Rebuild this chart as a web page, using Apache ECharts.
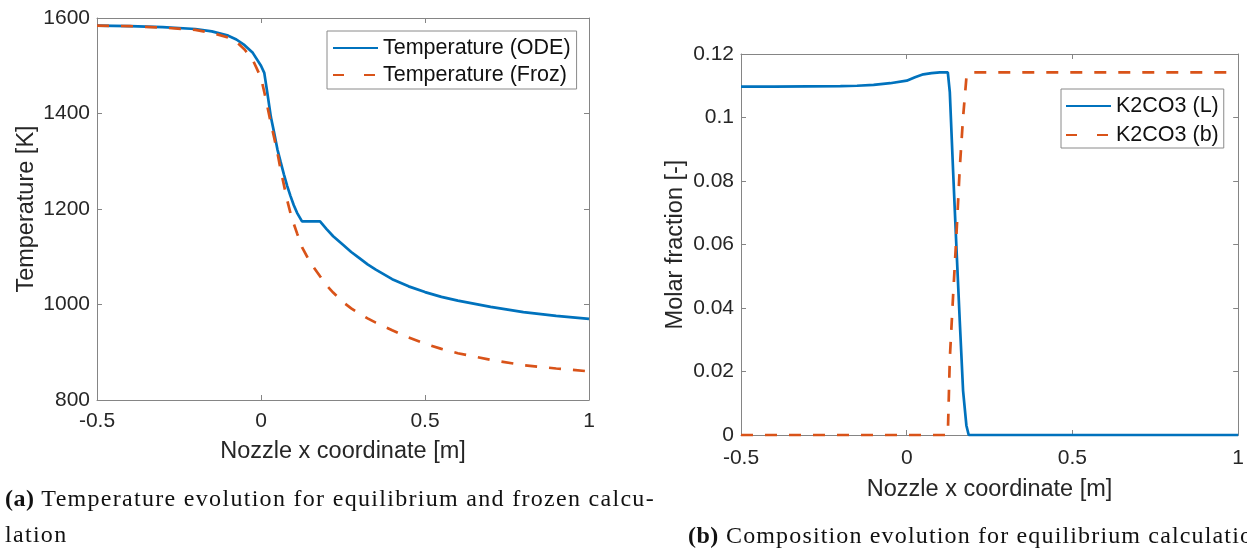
<!DOCTYPE html>
<html>
<head>
<meta charset="utf-8">
<script src="https://cdn.jsdelivr.net/npm/echarts@6/dist/echarts.min.js"></script>
<style>
  html, body { margin: 0; padding: 0; width: 1247px; height: 548px; overflow: hidden; background: #fff; }
  #chart { position: absolute; left: 0; top: 0; width: 1247px; height: 548px; }
  .cap { position: absolute; font-family: "Liberation Serif", "DejaVu Serif", serif; font-size: 24px;
         line-height: 36.7px; letter-spacing: 1.3px; color: #111; white-space: nowrap; }
  .cap b { letter-spacing: 0.5px; }
</style>
</head>
<body>
<div id="chart"></div>
<div class="cap" style="left:5px; top:479.5px;"><b>(a)</b> Temperature evolution for equilibrium and frozen calcu-<br>lation</div>
<div class="cap" style="left:688px; top:516.5px; letter-spacing:1.15px;"><b>(b)</b> Composition evolution for equilibrium calculation</div>
<script>
// ---- Left chart data: temperature along the nozzle ----
const xTemp = [-0.5, -0.4, -0.3, -0.2, -0.15, -0.1, -0.075, -0.05, -0.025, 0,
  0.01, 0.02, 0.03, 0.04, 0.05, 0.06, 0.07, 0.08, 0.09, 0.1,
  0.11, 0.125, 0.15, 0.18, 0.2, 0.22, 0.25, 0.275, 0.3, 0.325,
  0.35, 0.4, 0.45, 0.5, 0.55, 0.6, 0.7, 0.8, 0.9, 1.0];
const tempODE = [1584, 1583, 1581, 1577, 1572, 1563, 1555, 1543, 1527, 1500,
  1485, 1440, 1393, 1360, 1325, 1298, 1272, 1248, 1227, 1208,
  1192, 1174, 1174, 1174, 1158, 1143, 1125, 1110, 1097, 1084,
  1073, 1053, 1038, 1026, 1016, 1008, 995, 984, 976, 970];
const tempFroz = [1584, 1583, 1580, 1575, 1569, 1559, 1550, 1534, 1512, 1475,
  1445, 1413, 1380, 1350, 1318, 1282, 1250, 1218, 1191, 1169,
  1149, 1120, 1088, 1059, 1040, 1025, 1005, 992, 981, 971,
  962, 946, 931, 918, 907, 898, 884, 873, 866, 860];

// ---- Right chart data: K2CO3 molar fraction ----
const xComp = [-0.5, -0.4, -0.3, -0.2, -0.15, -0.1, -0.05, 0, 0.025, 0.05,
  0.075, 0.1, 0.124, 0.13, 0.14, 0.15, 0.16, 0.17, 0.18, 0.187,
  0.2, 0.5, 1.0];
const k2co3L = [0.1097, 0.1097, 0.1098, 0.1099, 0.1100, 0.1103, 0.1108, 0.1116, 0.1127, 0.1136,
  0.1140, 0.1142, 0.1142, 0.108, 0.083, 0.059, 0.036, 0.014, 0.003, 0,
  0, 0, 0];
const k2co3b = [0, 0, 0, 0, 0, 0, 0, 0, 0, 0,
  0, 0, 0, 0.024, 0.044, 0.063, 0.084, 0.100, 0.1125, 0.1142,
  0.1142, 0.1142, 0.1142];

// ---- Axis ticks ----
const xTicks = [-0.5, 0, 0.5, 1];
const tempTicks = [800, 1000, 1200, 1400, 1600];
const compTicks = [0, 0.02, 0.04, 0.06, 0.08, 0.1, 0.12];

const seriesNames = ['Temperature (ODE)', 'Temperature (Froz)', 'K2CO3 (L)', 'K2CO3 (b)'];
const xName = 'Nozzle x coordinate [m]';
const yNames = ['Temperature [K]', 'Molar fraction [-]'];

const BLUE = '#0072BD', RED = '#D95319';
const AXIS = '#858585', TXT = '#262626';
const FONT = '"Liberation Sans", Arial, Helvetica, sans-serif';

function pairs(xs, ys) { return xs.map((x, i) => [x, ys[i]]); }

function xAx(grid, pos, ticks, gap, margin) {
  const step = ticks[1] - ticks[0];
  return {
    type: 'value', gridIndex: grid, position: pos,
    min: ticks[0], max: ticks[ticks.length - 1], interval: step,
    name: pos === 'bottom' ? xName : '', nameLocation: 'middle', nameGap: gap,
    nameTextStyle: { fontFamily: FONT, fontSize: 23.5, color: TXT },
    axisLine: { show: true, onZero: false, lineStyle: { color: AXIS, width: 1 } },
    axisTick: { show: true, inside: true, length: 5, lineStyle: { color: AXIS, width: 1 } },
    axisLabel: { show: pos === 'bottom', margin: margin, fontFamily: FONT, fontSize: 21, color: TXT },
    splitLine: { show: false }
  };
}
function yAx(grid, pos, ticks, name, gap) {
  const step = +(ticks[1] - ticks[0]).toFixed(6);
  return {
    type: 'value', gridIndex: grid, position: pos,
    min: ticks[0], max: ticks[ticks.length - 1], interval: step,
    name: pos === 'left' ? name : '', nameLocation: 'middle', nameGap: gap, nameRotate: 90,
    nameTextStyle: { fontFamily: FONT, fontSize: 23.5, color: TXT },
    axisLine: { show: true, onZero: false, lineStyle: { color: AXIS, width: 1 } },
    axisTick: { show: true, inside: true, length: 5, lineStyle: { color: AXIS, width: 1 } },
    axisLabel: { show: pos === 'left', margin: 7, fontFamily: FONT, fontSize: 21, color: TXT,
      formatter: v => String(+v.toFixed(4)) },
    splitLine: { show: false }
  };
}

function legendBox(names, left, top, gap, pad) {
  return {
    orient: 'vertical', left: left, top: top, padding: pad, itemGap: gap,
    itemWidth: 45, itemHeight: 14,
    backgroundColor: '#fff', borderColor: '#8a8a8a', borderWidth: 1, borderRadius: 0,
    selectedMode: false,
    itemStyle: { opacity: 0 },
    textStyle: { fontFamily: FONT, fontSize: 21.5, color: '#111', lineHeight: 22 },
    data: [
      { name: names[0], itemStyle: { opacity: 0 } },
      { name: names[1], itemStyle: { opacity: 0 }, lineStyle: { type: [11, 20] } }
    ]
  };
}

const option = {
  animation: false,
  backgroundColor: '#fff',
  grid: [
    { left: 97, top: 18, width: 492, height: 382 },
    { left: 741, top: 54, width: 499, height: 381 }
  ],
  xAxis: [
    xAx(0, 'bottom', xTicks, 40, 11),
    xAx(0, 'top', xTicks, 0, 0),
    xAx(1, 'bottom', xTicks, 43, 13),
    xAx(1, 'top', xTicks, 0, 0)
  ],
  yAxis: [
    yAx(0, 'left', tempTicks, yNames[0], 58),
    yAx(0, 'right', tempTicks, '', 0),
    yAx(1, 'left', compTicks, yNames[1], 53),
    yAx(1, 'right', compTicks, '', 0)
  ],
  legend: [
    legendBox([seriesNames[0], seriesNames[1]], 327, 31, 5, [6, 6, 3, 5]),
    legendBox([seriesNames[2], seriesNames[3]], 1061, 89, 7, [6, 5, 2, 4])
  ],
  series: [
    { name: seriesNames[0], type: 'line', xAxisIndex: 0, yAxisIndex: 0, data: pairs(xTemp, tempODE),
      symbol: 'none', showSymbol: false, clip: false, color: BLUE,
      lineStyle: { color: BLUE, width: 2.7 } },
    { name: seriesNames[1], type: 'line', xAxisIndex: 0, yAxisIndex: 0, data: pairs(xTemp, tempFroz),
      symbol: 'none', showSymbol: false, clip: false, color: RED,
      lineStyle: { color: RED, width: 2.7, type: [12, 12] } },
    { name: seriesNames[2], type: 'line', xAxisIndex: 2, yAxisIndex: 2, data: pairs(xComp, k2co3L),
      symbol: 'none', showSymbol: false, clip: false, color: BLUE,
      lineStyle: { color: BLUE, width: 2.7 } },
    { name: seriesNames[3], type: 'line', xAxisIndex: 2, yAxisIndex: 2, data: pairs(xComp, k2co3b),
      symbol: 'none', showSymbol: false, clip: false, color: RED,
      lineStyle: { color: RED, width: 2.7, type: [12, 12] } }
  ]
};

const chart = echarts.init(document.getElementById('chart'), null, { renderer: 'canvas' });
chart.setOption(option);
</script>
</body>
</html>
